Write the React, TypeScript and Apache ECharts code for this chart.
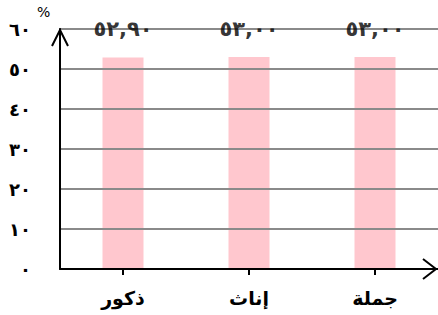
import React, { useEffect, useRef } from "react";
import * as echarts from "echarts";

const categories = ["ذكور", "إناث", "جملة"];
const values = [52.9, 53.0, 53.0];
const valueLabels = ["٥٢,٩٠", "٥٣,٠٠", "٥٣,٠٠"];
const yTickLabels = ["٠", "١٠", "٢٠", "٣٠", "٤٠", "٥٠", "٦٠"];
const yMax = 60;

export default function App() {
  const ref = useRef<HTMLDivElement>(null);
  useEffect(() => {
    if (!ref.current) return;
    const chart = echarts.init(ref.current, null, { renderer: "svg" });
    const font = "DejaVu Sans";
    chart.setOption({
      animation: false,
      grid: { left: 60, top: 29, width: 381, bottom: 46 },
      xAxis: {
        type: "category",
        data: categories,
        axisLine: { lineStyle: { color: "#000", width: 2 } },
        axisTick: { show: true, alignWithLabel: true, length: 6, lineStyle: { color: "#000", width: 2 } },
        axisLabel: { color: "#000", fontFamily: font, fontWeight: "bold", fontSize: 19, margin: 19 },
        z: 5,
      },
      yAxis: {
        type: "value",
        min: 0,
        max: yMax,
        interval: 10,
        axisLine: { show: true, lineStyle: { color: "#000", width: 2 } },
        axisTick: { show: false },
        splitLine: { lineStyle: { color: "#8a8a8a", width: 2 } },
        axisLabel: {
          color: "#000",
          fontFamily: font,
          fontWeight: "bold",
          fontSize: 18,
          margin: 29,
          formatter: (v: number) => yTickLabels[Math.round(v / 10)],
        },
        z: 5,
      },
      series: [
        {
          type: "bar",
          data: values,
          barWidth: 41,
          itemStyle: { color: "#FFC7CE" },
          z: 2,
        },
        {
          type: "scatter",
          data: values.map(() => yMax),
          symbolSize: 0,
          z: 10,
          label: {
            show: true,
            position: "inside",
            color: "#000",
            fontFamily: font,
            fontWeight: "bold",
            fontSize: 21,
            formatter: (p: any) => valueLabels[p.dataIndex],
          },
        },
      ],
      graphic: [
        {
          type: "polyline",
          shape: { points: [[52, 46], [60, 30], [68, 46]] },
          style: { stroke: "#000", lineWidth: 2, fill: "none" },
          z: 20,
        },
        {
          type: "polyline",
          shape: { points: [[423, 259], [436, 269], [423, 279]] },
          style: { stroke: "#000", lineWidth: 2, fill: "none" },
          z: 20,
        },
        {
          type: "text",
          left: 37,
          top: 5,
          style: { text: "%", fill: "#000", font: "14px DejaVu Sans" },
        },
      ],
    });
    return () => chart.dispose();
  }, []);
  return <div ref={ref} style={{ width: 438, height: 315, position: "absolute", left: 0, top: 0 }} />;
}
